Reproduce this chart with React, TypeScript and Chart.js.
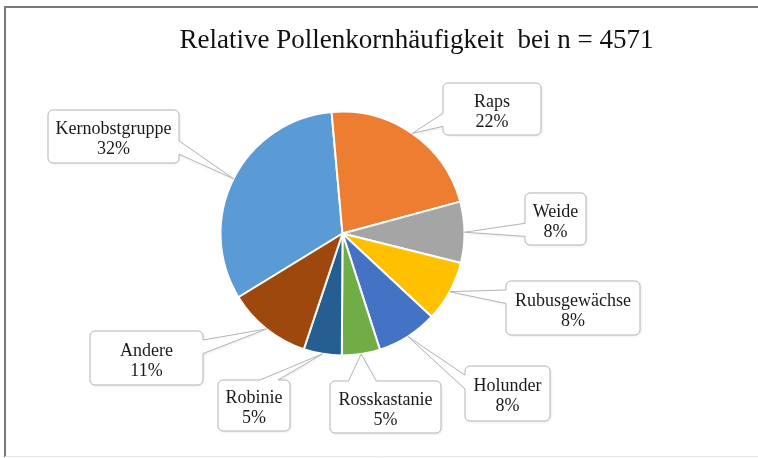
import React, { useEffect, useRef } from "react";
import { Chart, registerables } from "chart.js";

Chart.register(...registerables);

// ---- data ----
const TITLE = "Relative Pollenkornhäufigkeit  bei n = 4571";
const categories = [
  "Kernobstgruppe",
  "Raps",
  "Weide",
  "Rubusgewächse",
  "Holunder",
  "Rosskastanie",
  "Robinie",
  "Andere",
];
const percentages = [32, 22, 8, 8, 8, 5, 5, 11];
const colors = [
  "#5B9BD5",
  "#ED7D31",
  "#A5A5A5",
  "#FFC000",
  "#4472C4",
  "#70AD47",
  "#255E91",
  "#9E480E",
];

// ---- layout of the callout boxes (x, y, w, h), same order as categories ----
const BOXES: [number, number, number, number][] = [
  [48, 110, 131, 53],
  [443, 83, 98, 52],
  [525, 193, 61, 52],
  [506, 281, 134, 54],
  [465, 366, 85, 55],
  [330, 381, 111, 52],
  [218, 380, 72, 51],
  [90, 331, 113, 54],
];

const SERIF = "'Liberation Serif', 'Times New Roman', serif";

function calloutPath(
  ctx: CanvasRenderingContext2D,
  bx: number,
  by: number,
  bw: number,
  bh: number,
  tx: number,
  ty: number
) {
  const l = bx, t = by, r = bx + bw, b = by + bh;
  const rad = 5;
  const cx = bx + bw / 2, cy = by + bh / 2;
  const dxPos = tx - cx, dyPos = ty - cy;
  const inside = tx >= l && tx <= r && ty >= t && ty <= b;
  const dq = Math.abs(dxPos * bh) - Math.abs(dyPos * bw);
  let side = "none";
  if (!inside) {
    if (dq > 0) side = dxPos > 0 ? "right" : "left";
    else side = dyPos > 0 ? "bottom" : "top";
  }
  const x1 = bx + (bw * (dxPos > 0 ? 7 : 2)) / 12;
  const x2 = bx + (bw * (dxPos > 0 ? 10 : 5)) / 12;
  const y1 = by + (bh * (dyPos > 0 ? 7 : 2)) / 12;
  const y2 = by + (bh * (dyPos > 0 ? 10 : 5)) / 12;

  ctx.beginPath();
  ctx.moveTo(l + rad, t);
  if (side === "top") {
    ctx.lineTo(x1, t);
    ctx.lineTo(tx, ty);
    ctx.lineTo(x2, t);
  }
  ctx.arcTo(r, t, r, t + rad, rad);
  if (side === "right") {
    ctx.lineTo(r, y1);
    ctx.lineTo(tx, ty);
    ctx.lineTo(r, y2);
  }
  ctx.arcTo(r, b, r - rad, b, rad);
  if (side === "bottom") {
    ctx.lineTo(x2, b);
    ctx.lineTo(tx, ty);
    ctx.lineTo(x1, b);
  }
  ctx.arcTo(l, b, l, b - rad, rad);
  if (side === "left") {
    ctx.lineTo(l, y2);
    ctx.lineTo(tx, ty);
    ctx.lineTo(l, y1);
  }
  ctx.arcTo(l, t, l + rad, t, rad);
  ctx.closePath();
}

const framePlugin = {
  id: "frame",
  beforeDraw(chart: any) {
    const ctx = chart.ctx as CanvasRenderingContext2D;
    ctx.save();
    ctx.fillStyle = "#ffffff";
    ctx.fillRect(0, 0, chart.width, chart.height);
    // frame lines
    ctx.strokeStyle = "#7a7a7a";
    ctx.lineWidth = 2;
    ctx.beginPath();
    ctx.moveTo(5, 457);
    ctx.lineTo(5, 7);
    ctx.lineTo(chart.width, 7);
    ctx.stroke();
    ctx.strokeStyle = "#e6e6e6";
    ctx.lineWidth = 1;
    ctx.beginPath();
    ctx.moveTo(5, 456.5);
    ctx.lineTo(chart.width, 456.5);
    ctx.stroke();
    // title
    ctx.fillStyle = "#111111";
    ctx.font = `27px ${SERIF}`;
    ctx.textAlign = "center";
    ctx.textBaseline = "alphabetic";
    ctx.fillText(TITLE, 416.5, 48);
    ctx.restore();
  },
};

const calloutPlugin = {
  id: "callouts",
  afterDatasetsDraw(chart: any) {
    const ctx = chart.ctx as CanvasRenderingContext2D;
    const meta = chart.getDatasetMeta(0);
    const values = chart.data.datasets[0].data as number[];
    meta.data.forEach((arc: any, i: number) => {
      const p = arc.getProps(["x", "y", "startAngle", "endAngle", "outerRadius"], true);
      const mid = (p.startAngle + p.endAngle) / 2;
      const tx = p.x + Math.cos(mid) * p.outerRadius;
      const ty = p.y + Math.sin(mid) * p.outerRadius;
      const [bx, by, bw, bh] = BOXES[i];
      ctx.save();
      calloutPath(ctx, bx, by, bw, bh, tx, ty);
      ctx.shadowColor = "rgba(0,0,0,0.10)";
      ctx.shadowBlur = 3;
      ctx.shadowOffsetX = 1;
      ctx.shadowOffsetY = 1;
      ctx.fillStyle = "#ffffff";
      ctx.fill();
      ctx.shadowColor = "transparent";
      ctx.strokeStyle = "#b5b5b5";
      ctx.lineWidth = 1;
      ctx.stroke();
      ctx.fillStyle = "#1a1a1a";
      ctx.font = `18px ${SERIF}`;
      ctx.textAlign = "center";
      ctx.textBaseline = "alphabetic";
      const cx = bx + bw / 2;
      const cy = by + bh / 2;
      ctx.fillText(String(chart.data.labels[i]), cx, cy - 2.5);
      ctx.fillText(`${values[i]}%`, cx, cy + 17.5);
      ctx.restore();
    });
  },
};

export default function App() {
  const canvasRef = useRef<HTMLCanvasElement | null>(null);

  useEffect(() => {
    if (!canvasRef.current) return;
    const chart = new Chart(canvasRef.current, {
      type: "pie",
      data: {
        labels: categories,
        datasets: [
          {
            data: percentages,
            backgroundColor: colors,
            borderColor: "#ffffff",
            borderWidth: 2,
          },
        ],
      },
      options: {
        animation: false,
        responsive: true,
        maintainAspectRatio: false,
        rotation: 238.5,
        layout: {
          padding: { left: 219.5, right: 292.5, top: 110.5, bottom: 101.5 },
        },
        plugins: {
          legend: { display: false },
          title: { display: false },
          tooltip: { enabled: false },
        },
      },
      plugins: [framePlugin, calloutPlugin],
    });
    return () => chart.destroy();
  }, []);

  return (
    <div
      style={{
        position: "fixed",
        left: 0,
        top: 0,
        width: 758,
        height: 458,
        background: "#fff",
      }}
    >
      <canvas ref={canvasRef} />
    </div>
  );
}
